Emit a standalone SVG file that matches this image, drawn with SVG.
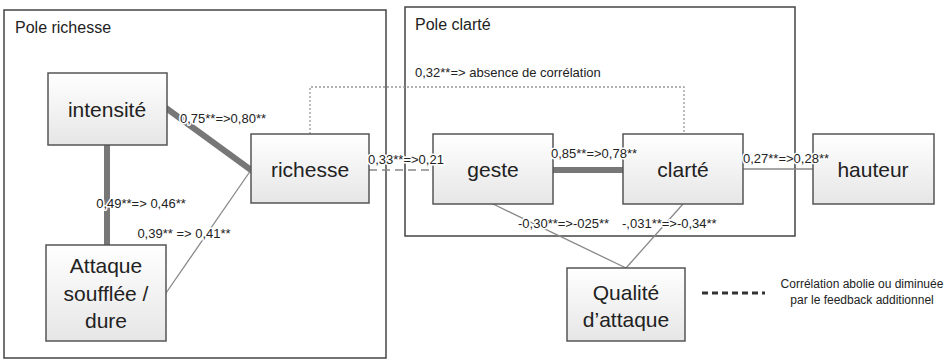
<svg xmlns="http://www.w3.org/2000/svg" width="952" height="361" viewBox="0 0 952 361">
<defs>
<linearGradient id="g" x1="0" y1="0" x2="0" y2="1">
<stop offset="0" stop-color="#ffffff"/>
<stop offset="1" stop-color="#e6e6e6"/>
</linearGradient>
<style>
text{font-family:"Liberation Sans",Arial,sans-serif;fill:#222}
.box{fill:url(#g);stroke:#555;stroke-width:1.5}
.cont{fill:none;stroke:#444;stroke-width:1.5}
.node{font-size:21px;text-anchor:middle}
.title{font-size:16px}
.lbl{font-size:13px;stroke:#fff;stroke-width:3;paint-order:stroke;stroke-linejoin:round}
.thick{stroke:#777;stroke-width:6;stroke-linecap:round;fill:none}
.thin{stroke:#888;stroke-width:1.3;fill:none}
.leg{font-size:12px;text-anchor:middle}
</style>
</defs>
<rect width="952" height="361" fill="#fff"/>
<g id="pole-richesse">
<rect class="cont" x="4" y="10" width="382" height="348"/>
<text class="title" x="15" y="33">Pole richesse</text>
</g>
<g id="pole-clarte">
<rect class="cont" x="405" y="7" width="390" height="229"/>
<text class="title" x="415" y="30">Pole clarté</text>
</g>
<g id="connectors">
<line class="thick" x1="166" y1="108" x2="251" y2="170"/>
<line class="thick" x1="107" y1="145" x2="107" y2="245"/>
<line class="thin" x1="251" y1="170" x2="166" y2="293"/>
<line class="thin" x1="369" y1="170" x2="433" y2="170" stroke-dasharray="8,5"/>
<polyline points="310,134 310,87 684,87 684,134" fill="none" stroke="#999" stroke-width="1.3" stroke-dasharray="2,2"/>
<line class="thick" x1="553" y1="170" x2="623" y2="170"/>
<line class="thin" x1="743" y1="169" x2="813" y2="169"/>
<line class="thin" x1="493" y1="204" x2="626" y2="268"/>
<line class="thin" x1="683" y1="204" x2="626" y2="268"/>
</g>
<g id="intensite">
<rect class="box" x="48" y="73" width="119" height="72"/>
<text class="node" x="107" y="117">intensité</text>
</g>
<g id="richesse">
<rect class="box" x="251" y="134" width="118" height="69"/>
<text class="node" x="310" y="177">richesse</text>
</g>
<g id="attaque">
<rect class="box" x="46" y="245" width="120" height="96"/>
<text class="node" x="106" y="273">Attaque</text>
<text class="node" x="106" y="301">soufflée /</text>
<text class="node" x="106" y="328">dure</text>
</g>
<g id="geste">
<rect class="box" x="433" y="134" width="120" height="70"/>
<text class="node" x="493" y="177">geste</text>
</g>
<g id="clarte">
<rect class="box" x="623" y="134" width="120" height="70"/>
<text class="node" x="683" y="177">clarté</text>
</g>
<g id="hauteur">
<rect class="box" x="813" y="134" width="121" height="70"/>
<text class="node" x="873" y="177">hauteur</text>
</g>
<g id="qualite">
<rect class="box" x="567" y="268" width="118" height="73"/>
<text class="node" x="626" y="300">Qualité</text>
<text class="node" x="626" y="327">d’attaque</text>
</g>
<g id="connector-labels">
<text class="lbl" x="180" y="123">0,75**=>0,80**</text>
<text class="lbl" x="141" y="208" text-anchor="middle">0,49**=> 0,46**</text>
<text class="lbl" x="184" y="238" text-anchor="middle">0,39** => 0,41**</text>
<text class="lbl" x="368" y="164">0,33**=>0,21</text>
<text class="lbl" x="415" y="77">0,32**=> absence de corrélation</text>
<text class="lbl" x="551" y="158">0,85**=>0,78**</text>
<text class="lbl" x="743" y="163">0,27**=>0,28**</text>
<text class="lbl" x="518" y="228">-0,30**=>-025**</text>
<text class="lbl" x="622" y="228">-,031**=>-0,34**</text>
</g>
<g id="legend">
<line x1="702" y1="293" x2="765" y2="293" stroke="#333" stroke-width="3" stroke-dasharray="6,4"/>
<text class="leg" x="862" y="288">Corrélation abolie ou diminuée</text>
<text class="leg" x="862" y="304">par le feedback additionnel</text>
</g>
</svg>
